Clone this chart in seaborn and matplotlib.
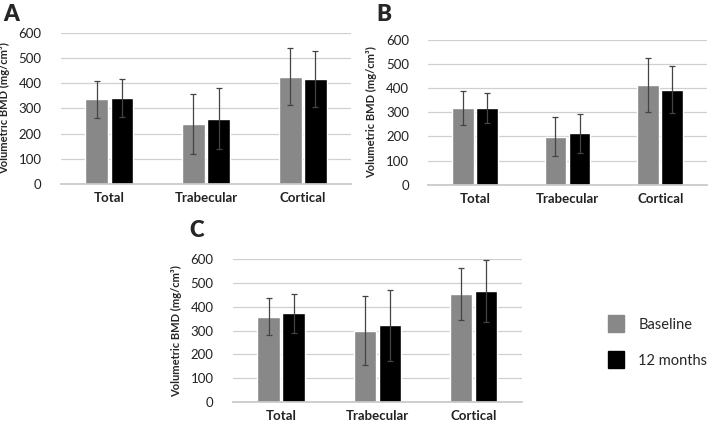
import numpy as np
import pandas as pd
import matplotlib
matplotlib.use("Agg")
import matplotlib.pyplot as plt
import seaborn as sns

regions = ["Total", "Trabecular", "Cortical"]
timepoints = ["Baseline", "12 months"]

# panel A
a_base = [336, 240, 426]
a_base_sd = [74, 119, 113]
a_12m = [342, 260, 416]
a_12m_sd = [76, 122, 111]

# panel B
b_base = [318, 199, 413]
b_base_sd = [69, 80, 110]
b_12m = [318, 213, 393]
b_12m_sd = [61, 80, 97]

# panel C
c_base = [358, 300, 453]
c_base_sd = [78, 145, 110]
c_12m = [373, 322, 466]
c_12m_sd = [81, 150, 131]

yticks = [0, 100, 200, 300, 400, 500, 600]
ylabel = "Volumetric BMD (mg/cm\u00b3)"

sns.set_theme(style="white")
plt.rcParams["font.family"] = ["Lato", "DejaVu Sans"]

colors = {"Baseline": "#888888", "12 months": "#000000"}


def draw_panel(ax, base, base_sd, m12, m12_sd):
    df = pd.DataFrame({
        "region": regions * 2,
        "time": ["Baseline"] * 3 + ["12 months"] * 3,
        "bmd": base + m12,
    })
    sns.barplot(data=df, x="region", y="bmd", hue="time", order=regions,
                hue_order=timepoints, palette=colors, width=0.52, gap=0.1,
                errorbar=None, saturation=1, ax=ax, legend=False)
    for cont, sd in zip(ax.containers, [base_sd, m12_sd]):
        xs = [p.get_x() + p.get_width() / 2 for p in cont.patches]
        hs = [p.get_height() for p in cont.patches]
        ax.errorbar(xs, hs, yerr=sd, fmt="none", ecolor="#444444",
                    elinewidth=0.9, capsize=2.2, capthick=0.9)
    ax.set_ylim(0, 600)
    ax.set_xlim(-0.5, 2.5)
    ax.set_yticks(yticks)
    ax.yaxis.grid(True, color="#d0d0d0", linewidth=0.9)
    ax.set_axisbelow(True)
    for s in ["top", "right", "left"]:
        ax.spines[s].set_visible(False)
    ax.spines["bottom"].set_color("#c8c8c8")
    ax.tick_params(axis="both", length=0, labelsize=9.5, colors="#222222")
    ax.tick_params(axis="y", pad=14)
    ax.tick_params(axis="x", pad=6)
    for t in ax.get_xticklabels():
        t.set_fontweight("bold")
    ax.set_xlabel("")
    ax.set_ylabel(ylabel, fontsize=8, fontweight="bold", labelpad=6)


fig = plt.figure(figsize=(7.08, 4.22), dpi=100)
ax_a = fig.add_axes([0.086, 0.564, 0.410, 0.358])
ax_b = fig.add_axes([0.605, 0.562, 0.393, 0.344])
ax_c = fig.add_axes([0.329, 0.047, 0.408, 0.339])

draw_panel(ax_a, a_base, a_base_sd, a_12m, a_12m_sd)
draw_panel(ax_b, b_base, b_base_sd, b_12m, b_12m_sd)
draw_panel(ax_c, c_base, c_base_sd, c_12m, c_12m_sd)

fig.text(0.005, 0.965, "A", fontsize=16, fontweight="heavy", va="center")
fig.text(0.532, 0.965, "B", fontsize=16, fontweight="heavy", va="center")
fig.text(0.268, 0.453, "C", fontsize=16, fontweight="heavy", va="center")

handles = [plt.Rectangle((0, 0), 1, 1, color=colors[t]) for t in timepoints]
fig.legend(handles, timepoints, loc="center left", bbox_to_anchor=(0.84, 0.19),
           frameon=False, fontsize=10.5, handlelength=1.1, handleheight=1.4,
           labelspacing=1.3, handletextpad=1.0)

fig.savefig("out.png", dpi=100)
